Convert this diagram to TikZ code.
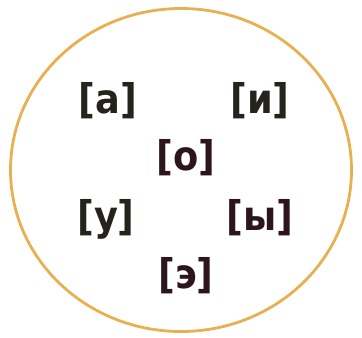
\documentclass[tikz,border=0pt]{standalone}
\usepackage{fontspec}
\setmainfont{DejaVu Sans Condensed}
\usepackage{tikz}
\usetikzlibrary{positioning,shapes.geometric}
\usepackage{xcolor}
\definecolor{ringorange}{RGB}{232,176,80}
\definecolor{sounddark}{RGB}{38,34,28}
\definecolor{soundmaroon}{RGB}{44,22,28}

\begin{document}
\begin{tikzpicture}[
    x=1bp, y=-1bp,
    every node/.style={font=\fontsize{41}{44}\selectfont\bfseries, inner sep=0pt},
    soundLbl/.style={text=sounddark},
    soundMid/.style={text=soundmaroon},
    ring/.style={draw=ringorange, line width=2.8bp}
]
    \useasboundingbox (0,0) rectangle (362,338);
    \node [ring, ellipse, minimum width=341bp, minimum height=323bp] (circ) at (181,170) {};

    \node [soundLbl] (a) at (108,101) {[а]};
    \node [soundLbl] (i) at (260,101) {[и]};
    \node [soundMid] (o) at (186,158) {[о]};
    \node [soundLbl] (u) at (106,219) {[у]};
    \node [soundMid] (y) at (260,218) {[ы]};
    \node [soundMid] (e) at (186,276) {[э]};
\end{tikzpicture}
\end{document}
